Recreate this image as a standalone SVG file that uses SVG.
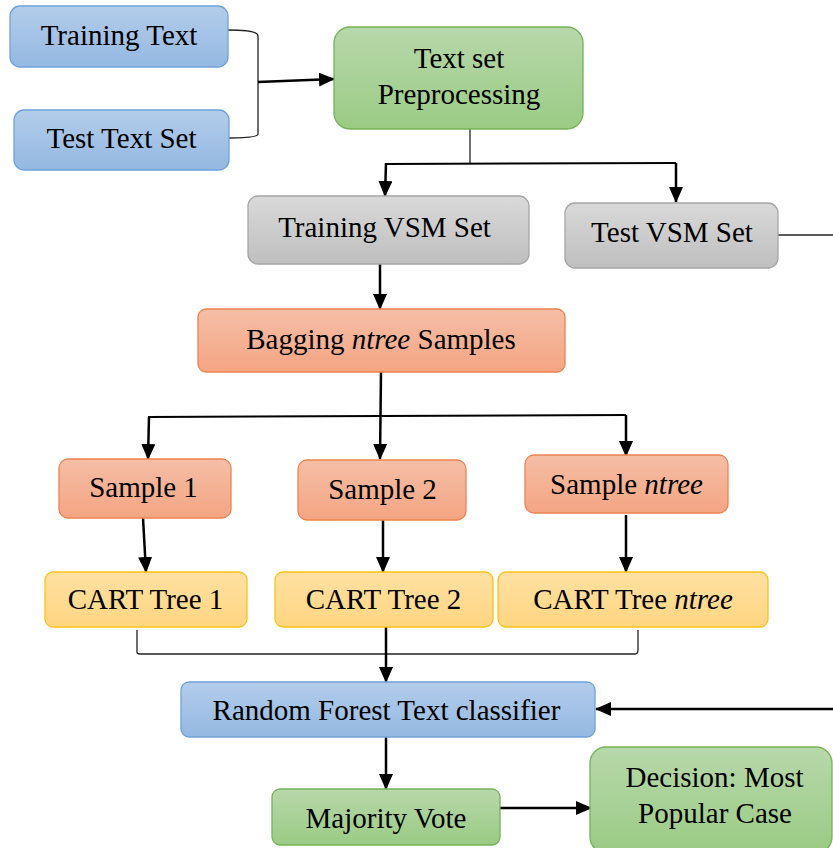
<svg xmlns="http://www.w3.org/2000/svg" width="833" height="848" viewBox="0 0 833 848">
  <defs>
    <linearGradient id="gBlue" x1="0" y1="0" x2="0" y2="1">
      <stop offset="0" stop-color="#b3cdea"/>
      <stop offset="1" stop-color="#94b8e2"/>
    </linearGradient>
    <linearGradient id="gGreen" x1="0" y1="0" x2="0" y2="1">
      <stop offset="0" stop-color="#b7d8aa"/>
      <stop offset="1" stop-color="#9acb84"/>
    </linearGradient>
    <linearGradient id="gGray" x1="0" y1="0" x2="0" y2="1">
      <stop offset="0" stop-color="#d9d9d9"/>
      <stop offset="1" stop-color="#bfbfbf"/>
    </linearGradient>
    <linearGradient id="gSalmon" x1="0" y1="0" x2="0" y2="1">
      <stop offset="0" stop-color="#f5bea6"/>
      <stop offset="1" stop-color="#f4a583"/>
    </linearGradient>
    <linearGradient id="gYellow" x1="0" y1="0" x2="0" y2="1">
      <stop offset="0" stop-color="#ffe1a3"/>
      <stop offset="1" stop-color="#ffd580"/>
    </linearGradient>
    <marker id="arr" viewBox="0 0 16 14" refX="15" refY="7" markerWidth="16" markerHeight="14" markerUnits="userSpaceOnUse" orient="auto">
      <path d="M0,0 L16,7 L0,14 Z" fill="#000"/>
    </marker>
  </defs>
  <style>
    text { font-family: "Liberation Serif", "Times New Roman", serif; font-size: 29px; fill: #000; text-anchor: middle; }
    .blue { fill: url(#gBlue); stroke: #6fa2da; stroke-width: 1.3; }
    .green { fill: url(#gGreen); stroke: #75b359; stroke-width: 1.3; }
    .gray { fill: url(#gGray); stroke: #a6a6a6; stroke-width: 1.3; }
    .salmon { fill: url(#gSalmon); stroke: #ee8350; stroke-width: 1.3; }
    .yellow { fill: url(#gYellow); stroke: #fbc21a; stroke-width: 1.3; }
    .thin { fill: none; stroke: #222; stroke-width: 1.3; }
    .arrow { fill: none; stroke: #000; stroke-width: 2.5; marker-end: url(#arr); }
    .line { fill: none; stroke: #000; stroke-width: 2; }
  </style>

  <!-- connectors -->
  <g id="connectors">
    <path class="thin" d="M228,30 Q258,30 258,36 L258,134 Q258,138 228,138"/>
    <path class="arrow" d="M258,82 L334,79"/>
    <path class="thin" d="M470,128 L470,163"/>
    <path class="line" d="M386,164 L676,163"/>
    <path class="arrow" d="M386,163 L385,196"/>
    <path class="arrow" d="M676,163 L676,202"/>
    <path class="thin" d="M778,235 L833,235"/>
    <path class="arrow" d="M380,264 L380,309"/>
    <path class="arrow" d="M381,372 L380,459"/>
    <path class="line" d="M149,418 L149,417 L626,415"/>
    <path class="arrow" d="M149,417 L148,459"/>
    <path class="arrow" d="M626,415 L626,456"/>
    <path class="arrow" d="M143,518 L146,572"/>
    <path class="arrow" d="M383,520 L383,572"/>
    <path class="arrow" d="M626,515 L626,572"/>
    <path class="thin" d="M137,630 L137,652 Q137,654 140,654 L635,654 Q638,654 638,650 L638,630"/>
    <path class="arrow" d="M386,627 L386,682"/>
    <path class="arrow" d="M833,709 L596,709"/>
    <path class="arrow" d="M386,737 L386,789"/>
    <path class="arrow" d="M500,808 L591,808"/>
  </g>

  <g id="training-text">
    <rect class="blue" x="10" y="6" width="218" height="61" rx="10"/>
    <text x="119" y="45">Training Text</text>
  </g>
  <g id="test-text-set">
    <rect class="blue" x="14" y="110" width="215" height="60" rx="10"/>
    <text x="121.5" y="148">Test Text Set</text>
  </g>
  <g id="preprocessing">
    <rect class="green" x="334" y="27" width="249" height="102" rx="16"/>
    <text x="459" y="68">Text set</text>
    <text x="459" y="104">Preprocessing</text>
  </g>
  <g id="training-vsm">
    <rect class="gray" x="248" y="196" width="281" height="68" rx="10"/>
    <text x="384.5" y="237">Training VSM Set</text>
  </g>
  <g id="test-vsm">
    <rect class="gray" x="565" y="203" width="213" height="65" rx="10"/>
    <text x="672" y="242">Test VSM Set</text>
  </g>
  <g id="bagging">
    <rect class="salmon" x="198" y="309" width="367" height="63" rx="8"/>
    <text x="381" y="349">Bagging <tspan font-style="italic">ntree</tspan> Samples</text>
  </g>
  <g id="sample-1">
    <rect class="salmon" x="59" y="459" width="172" height="59" rx="9"/>
    <text x="143.5" y="497">Sample 1</text>
  </g>
  <g id="sample-2">
    <rect class="salmon" x="298" y="460" width="168" height="60" rx="9"/>
    <text x="382.5" y="499">Sample 2</text>
  </g>
  <g id="sample-ntree">
    <rect class="salmon" x="525" y="455" width="203" height="58" rx="9"/>
    <text x="626.5" y="494">Sample <tspan font-style="italic">ntree</tspan></text>
  </g>
  <g id="cart-1">
    <rect class="yellow" x="45" y="572" width="202" height="55" rx="8"/>
    <text x="145.5" y="609">CART Tree 1</text>
  </g>
  <g id="cart-2">
    <rect class="yellow" x="275" y="572" width="218" height="55" rx="8"/>
    <text x="383.5" y="609">CART Tree 2</text>
  </g>
  <g id="cart-ntree">
    <rect class="yellow" x="498" y="572" width="270" height="55" rx="8"/>
    <text x="633" y="609">CART Tree <tspan font-style="italic">ntree</tspan></text>
  </g>
  <g id="random-forest">
    <rect class="blue" x="181" y="682" width="414" height="55" rx="8"/>
    <text x="386.5" y="720">Random Forest Text classifier</text>
  </g>
  <g id="majority-vote">
    <rect class="green" x="272" y="789" width="228" height="56" rx="8"/>
    <text x="386" y="828">Majority Vote</text>
  </g>
  <g id="decision">
    <rect class="green" x="590" y="747" width="242" height="106" rx="16"/>
    <text x="714.5" y="787">Decision: Most</text>
    <text x="715" y="823">Popular Case</text>
  </g>
</svg>
